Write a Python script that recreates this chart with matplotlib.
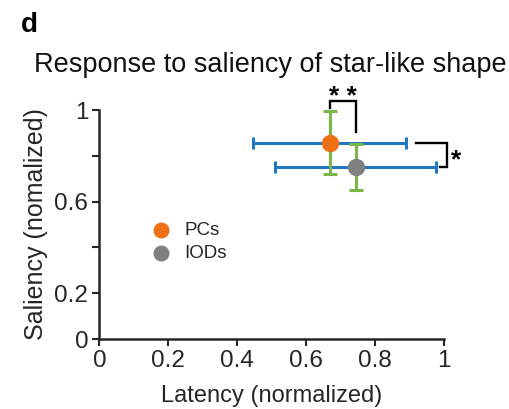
import matplotlib
matplotlib.use("Agg")
import matplotlib.pyplot as plt

plt.rcParams['font.family'] = ['Liberation Sans', 'DejaVu Sans']

groups = ["PCs", "IODs"]
latency_mean = [0.668, 0.743]
latency_err = [0.222, 0.233]
saliency_mean = [0.857, 0.752]
saliency_err = [0.138, 0.100]
point_colors = ["#ee7014", "#808080"]
h_err_color = "#1f78c1"
v_err_color = "#7ab648"

xticks = [0, 0.2, 0.4, 0.6, 0.8, 1]
xticklabels = ["0", "0.2", "0.4", "0.6", "0.8", "1"]
yticks = [0, 0.2, 0.4, 0.6, 0.8, 1]
yticklabels = ["0", "0.2", "", "0.6", "", "1"]

fig = plt.figure(figsize=(5.10, 4.09), dpi=100)
ax = fig.add_axes([0.195, 0.171, 0.676, 0.560])
ax.set_xlim(0, 1)
ax.set_ylim(0, 1)

for i in range(2):
    ax.errorbar(latency_mean[i], saliency_mean[i], xerr=latency_err[i],
                fmt='none', ecolor=h_err_color, elinewidth=2.2, capsize=4,
                capthick=2.2, clip_on=False, zorder=2)
for i in range(2):
    ax.errorbar(latency_mean[i], saliency_mean[i], yerr=saliency_err[i],
                fmt='none', ecolor=v_err_color, elinewidth=2.2, capsize=5,
                capthick=2.2, clip_on=False, zorder=3)
for i in range(2):
    ax.plot(latency_mean[i], saliency_mean[i], 'o', color=point_colors[i],
            markersize=11.5, clip_on=False, zorder=4)

# significance brackets
x0, x1 = latency_mean
yb = saliency_mean[0] + saliency_err[0]
ax.plot([x0, x0, x1, x1], [yb + 0.014, yb + 0.043, yb + 0.043, saliency_mean[1] + 0.153],
        color='black', lw=1.7, clip_on=False, solid_joinstyle='miter')
ax.text((x0 + x1) / 2, yb + 0.062, "* *", ha='center', va='center', fontsize=19,
        fontweight='bold', clip_on=False)

y0, y1 = saliency_mean
xr0 = latency_mean[0] + latency_err[0]
xr1 = latency_mean[1] + latency_err[1]
ax.plot([xr0 + 0.029, xr1 + 0.033, xr1 + 0.033, xr1 + 0.012], [y0, y0, y1, y1],
        color='black', lw=1.7, clip_on=False, solid_joinstyle='miter')
ax.text(xr1 + 0.045, (y0 + y1) / 2 - 0.025, "*", ha='left', va='center', fontsize=19,
        fontweight='bold', clip_on=False)

# legend
leg_y = [0.476, 0.374]
for i in range(2):
    ax.plot(0.178, leg_y[i], 'o', color=point_colors[i], markersize=10.5,
            transform=ax.transAxes, clip_on=False)
    ax.text(0.247, leg_y[i], groups[i], transform=ax.transAxes, ha='left',
            va='center', fontsize=13.5, color='#262626')

for s in ['top', 'right']:
    ax.spines[s].set_visible(False)
for s in ['left', 'bottom']:
    ax.spines[s].set_linewidth(1.8)
    ax.spines[s].set_color('#262626')

ax.set_xticks(xticks)
ax.set_xticklabels(xticklabels)
ax.set_yticks(yticks)
ax.set_yticklabels(yticklabels)
ax.tick_params(direction='out', length=5, width=1.5, color='#262626',
               labelsize=17.5, labelcolor='#262626', pad=3)

ax.set_xlabel("Latency (normalized)", fontsize=17, color='#262626')
ax.set_ylabel("Saliency (nomalized)", fontsize=18, color='#262626')
ax.xaxis.set_label_coords(0.5, -0.2)
ax.yaxis.set_label_coords(-0.148, 0.5)

fig.text(0.531, 0.84, "Response to saliency of star-like shape", ha='center',
         va='center', fontsize=19.5, color='#111111')
fig.text(0.04, 0.94, "d", ha='left', va='center', fontsize=20, fontweight='bold')

fig.savefig("out.png", dpi=100)
